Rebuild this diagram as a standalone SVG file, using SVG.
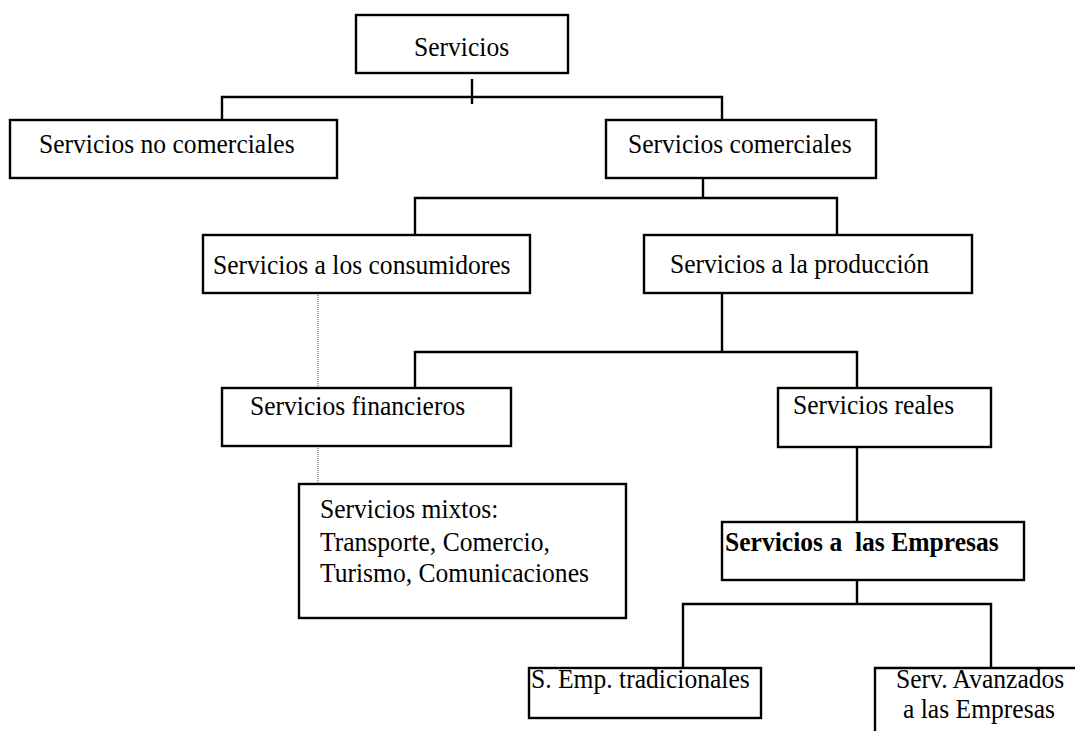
<svg xmlns="http://www.w3.org/2000/svg" width="1075" height="731" viewBox="0 0 1075 731">
  <style>
    .box { fill: #ffffff; stroke: #000000; stroke-width: 2.4; }
    .lbl { font-family: "Liberation Serif", "Times New Roman", serif; font-size: 27.5px; fill: #000000; white-space: pre; }
    .bold { font-weight: bold; }
    .link { fill: none; stroke: #000000; stroke-width: 2.4; }
    .dot { fill: none; stroke: #555555; stroke-width: 1; stroke-dasharray: 1 1; }
  </style>
  <rect width="1075" height="731" fill="#ffffff"/>

  <!-- connectors -->
  <g id="connectors">
    <path class="dot" d="M318,293 V388 M318,446 V484"/>
    <path class="link" d="M472,79 V104"/>
    <path class="link" d="M222,120 V97 H722 V120"/>
    <path class="link" d="M703,178 V198 M415,235 V198 H837 V235"/>
    <path class="link" d="M722,293 V352 M415,388 V352 H857 V388"/>
    <path class="link" d="M857,447 V522"/>
    <path class="link" d="M857,580 V604 M683,668 V604 H991 V668"/>
  </g>

  <!-- labels use a slightly condensed serif: matrix(0.93 0 0 1 x baseline) -->
  <g id="servicios">
    <rect class="box" x="356" y="15" width="212" height="58"/>
    <text class="lbl" transform="matrix(0.93 0 0 1 414 56)">Servicios</text>
  </g>

  <g id="no-comerciales">
    <rect class="box" x="10" y="120" width="327" height="58"/>
    <text class="lbl" transform="matrix(0.93 0 0 1 39 153)">Servicios no comerciales</text>
  </g>

  <g id="comerciales">
    <rect class="box" x="606" y="120" width="270" height="58"/>
    <text class="lbl" transform="matrix(0.93 0 0 1 628 153)">Servicios comerciales</text>
  </g>

  <g id="consumidores">
    <rect class="box" x="203" y="235" width="327" height="58"/>
    <text class="lbl" transform="matrix(0.93 0 0 1 213 274)">Servicios a los consumidores</text>
  </g>

  <g id="produccion">
    <rect class="box" x="644" y="235" width="328" height="58"/>
    <text class="lbl" transform="matrix(0.93 0 0 1 670 273)">Servicios a la producción</text>
  </g>

  <g id="financieros">
    <rect class="box" x="222" y="388" width="289" height="58"/>
    <text class="lbl" transform="matrix(0.93 0 0 1 250 415)">Servicios financieros</text>
  </g>

  <g id="reales">
    <rect class="box" x="778" y="388" width="213" height="59"/>
    <text class="lbl" transform="matrix(0.93 0 0 1 793 414)">Servicios reales</text>
  </g>

  <g id="mixtos">
    <rect class="box" x="299" y="484" width="327" height="134"/>
    <text class="lbl" transform="matrix(0.93 0 0 1 320 518)">Servicios mixtos:</text>
    <text class="lbl" transform="matrix(0.93 0 0 1 320 551)">Transporte, Comercio,</text>
    <text class="lbl" transform="matrix(0.93 0 0 1 320 582)">Turismo, Comunicaciones</text>
  </g>

  <g id="empresas">
    <rect class="box" x="722" y="522" width="302" height="58"/>
    <text class="lbl bold" transform="matrix(0.93 0 0 1 725 551)">Servicios a  las Empresas</text>
  </g>

  <g id="tradicionales">
    <rect class="box" x="529" y="668" width="232" height="50"/>
    <text class="lbl" transform="matrix(0.93 0 0 1 531 688)">S. Emp. tradicionales</text>
  </g>

  <g id="avanzados">
    <path class="link" d="M1080,668 H875 V735"/>
    <text class="lbl" transform="matrix(0.93 0 0 1 896 688)">Serv. Avanzados</text>
    <text class="lbl" transform="matrix(0.93 0 0 1 903 718)">a las Empresas</text>
  </g>
</svg>
